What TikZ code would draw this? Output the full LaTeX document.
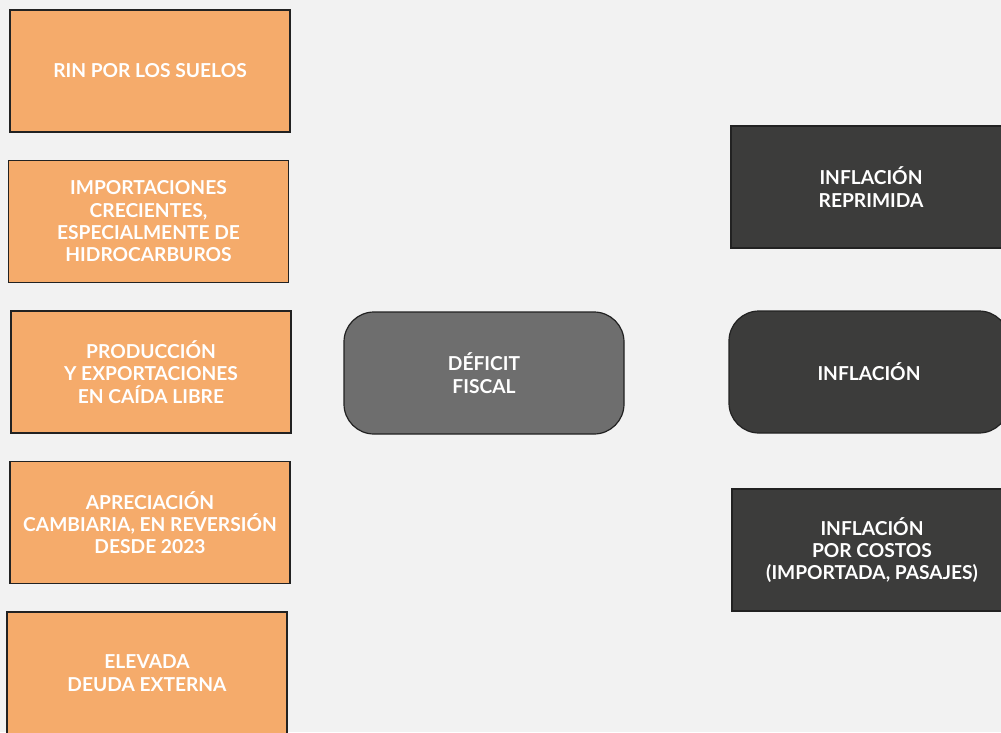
\documentclass[tikz,border=0pt]{standalone}
\usepackage{fontspec}
\setmainfont{Lato}
\definecolor{bg}{HTML}{F2F2F2}
\definecolor{orangebox}{HTML}{F5AB6B}
\definecolor{darkbox}{HTML}{3C3C3B}
\definecolor{greybox}{HTML}{6E6E6E}
\definecolor{edge}{HTML}{222222}
\tikzset{
  base/.style={draw=edge, line width=1.2pt, minimum width=280pt, minimum height=122pt,
    text=white, align=center, font=\fontsize{19.2}{22.3}\selectfont\bfseries, inner sep=0pt},
  causebox/.style={base, fill=orangebox},
  effectbox/.style={base, fill=darkbox},
  roundeffect/.style={base, fill=darkbox, rounded corners=30pt},
  centralbox/.style={base, fill=greybox, rounded corners=30pt}
}
\begin{document}
\begin{tikzpicture}[x=1pt,y=-1pt]
\useasboundingbox (0,0) rectangle (1001,732);
\clip (0,0) rectangle (1001,732);
\fill[bg] (0,0) rectangle (1001,732);
\node[causebox] (rin) at (150,71) {RIN POR LOS SUELOS};
\node[causebox] (imp) at (148.5,221.5) {IMPORTACIONES\\CRECIENTES,\\ESPECIALMENTE DE\\HIDROCARBUROS};
\node[causebox] (prod) at (151,372) {PRODUCCIÓN\\Y EXPORTACIONES\\EN CAÍDA LIBRE};
\node[causebox] (apr) at (150,522.5) {APRECIACIÓN\\CAMBIARIA, EN REVERSIÓN\\DESDE 2023};
\node[causebox] (deuda) at (147,673) {ELEVADA\\DEUDA EXTERNA};
\node[centralbox] (def) at (484,373) {DÉFICIT\\FISCAL};
\node[effectbox] (repr) at (871,187) {INFLACIÓN\\REPRIMIDA};
\node[roundeffect] (infl) at (869,372) {INFLACIÓN};
\node[effectbox] (cost) at (872,550) {INFLACIÓN\\POR COSTOS\\(IMPORTADA, PASAJES)};
\end{tikzpicture}
\end{document}
